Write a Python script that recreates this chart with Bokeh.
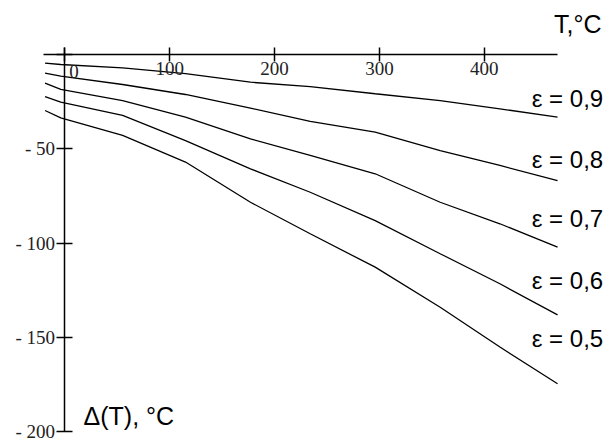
from bokeh.plotting import figure
from bokeh.models import LinearAxis, FixedTicker, Range1d
from bokeh.core.properties import value
from bokeh.embed import file_html
from bokeh.resources import INLINE

# Data
T = [-19, -4, 55, 115, 177, 234, 296, 358, 415, 470]
e09 = [-4.6, -5.3, -7.1, -10.2, -14.7, -17.0, -20.8, -24.4, -28.8, -33.2]
e08 = [-9.9, -11.5, -15.9, -21.2, -28.4, -35.5, -41.2, -50.9, -58.8, -66.8]
e07 = [-15.2, -18.5, -24.4, -33.2, -44.7, -53.5, -63.2, -78.3, -89.7, -102.1]
e06 = [-22.3, -25.3, -32.3, -45.6, -60.6, -73.0, -88.0, -105.6, -121.5, -138.0]
e05 = [-29.7, -33.6, -42.9, -57.0, -78.3, -95.0, -112.7, -133.9, -155.0, -174.5]
series = [e09, e08, e07, e06, e05]
labels = ["ε = 0,9", "ε = 0,8", "ε = 0,7", "ε = 0,6", "ε = 0,5"]
label_y = [-23.3, -55.6, -86.9, -119.8, -150.6]
x_ticks = [0, 100, 200, 300, 400]
y_ticks = [0, -50, -100, -150, -200]

p = figure(width=606, height=442, x_range=Range1d(-61.5, 516.7), y_range=Range1d(-205.6, 28.6),
           output_backend="svg", toolbar_location=None,
           x_axis_location=None, y_axis_location=None, min_border=0)
p.outline_line_color = None
p.xgrid.visible = False
p.ygrid.visible = False
p.background_fill_color = "white"
p.border_fill_color = "white"

serif = "Liberation Serif"
xaxis = LinearAxis(fixed_location=0, bounds=(-20.5, 470), ticker=FixedTicker(ticks=x_ticks),
                   major_tick_in=7, major_tick_out=7, minor_tick_line_color=None,
                   axis_line_width=1.5, major_tick_line_width=1.5,
                   major_label_text_font=serif, major_label_text_font_size="19px",
                   major_label_text_color="#222222", major_label_standoff=1,
                   major_label_overrides={0: ""})
p.add_layout(xaxis, "below")

yaxis = LinearAxis(fixed_location=0, bounds=(-200, 3.9), ticker=FixedTicker(ticks=y_ticks),
                   major_tick_in=8, major_tick_out=8, minor_tick_line_color=None,
                   axis_line_width=1.5, major_tick_line_width=1.5,
                   major_label_text_font=serif, major_label_text_font_size="19px",
                   major_label_text_color="#222222", major_label_standoff=2,
                   major_label_overrides={0: "", -50: "- 50", -100: "- 100", -150: "- 150", -200: "- 200"})
p.add_layout(yaxis, "left")

for s in series:
    p.line(T, s, line_color="black", line_width=1.3)

# zero label of the T axis (offset right of the crossing)
p.text(x=[0], y=[0], text=["0"], text_font=value(serif), text_font_size="19px",
       text_color="#222222", text_align="center", text_baseline="middle", x_offset=9, y_offset=17)

x_lab = [513.5] * len(labels)
p.text(x=x_lab, y=label_y, text=labels, text_font=value("Liberation Sans"), text_font_size="24px",
       text_color="black", text_align="right", text_baseline="middle")
p.text(x=[512], y=[15.9], text=["T,°C"], text_font=value("Liberation Sans"), text_font_size="25px",
       text_color="black", text_align="right", text_baseline="middle")
p.text(x=[17.7], y=[-191.3], text=["Δ(T), °C"], text_font=value("Liberation Sans"), text_font_size="25px",
       text_color="black", text_align="left", text_baseline="middle")

open("out.html", "w").write(file_html(p, INLINE))
